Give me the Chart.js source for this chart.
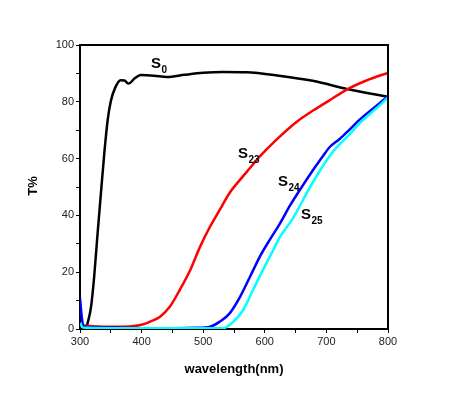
<!DOCTYPE html>
<html>
<head>
<meta charset="utf-8">
<script src="https://cdn.jsdelivr.net/npm/chart.js@4/dist/chart.umd.min.js"></script>
<style>
  html, body { margin: 0; padding: 0; background: #fff; }
  #wrap { width: 450px; height: 395px; }
</style>
</head>
<body>
<div id="wrap"><canvas id="tChart" width="450" height="395"></canvas></div>
<script>
// wavelength (nm) / transmittance (%)
const s0Wl  = [311, 318, 323, 328.6, 334, 339.5, 345, 350, 357, 366, 372, 379, 388, 399, 420, 441, 470, 500, 532, 570, 620, 680, 733, 800];
const s0T   = [0.8, 7.9, 18.4, 33.8, 47.9, 62, 73.7, 80.2, 84.9, 87.6, 87.5, 86.4, 88.1, 89.4, 89.2, 88.7, 89.5, 90.2, 90.5, 90.4, 89.3, 87.3, 84.5, 81.8];

const s23Wl = [305, 320, 350, 380, 400, 414, 430, 446, 462, 479, 495, 511, 527, 543, 560, 576, 592, 619, 652, 679, 705, 733, 765, 800];
const s23T  = [1.2, 1, 0.8, 0.9, 1.5, 2.6, 4.3, 7.9, 13.8, 20.8, 29, 36, 42, 48, 52.6, 56.7, 60.8, 66.7, 73, 77, 80.5, 84.3, 87.5, 90.2];

const s24Wl = [300, 303, 306, 320, 350, 400, 450, 490, 511, 527, 543, 560, 576, 592, 608, 625, 641, 657, 680, 698, 705, 722, 738, 754, 778, 800];
const s24T  = [11, 4, 1, 0.6, 0.5, 0.3, 0.3, 0.4, 0.8, 2.6, 5.5, 11.4, 18.4, 25.5, 31.4, 37.3, 43.5, 49, 56.5, 62, 64, 67, 70.3, 73.7, 78, 82];

const s25Wl = [300, 305, 350, 400, 500, 533, 549, 565, 581, 597, 614, 625, 644, 671, 690, 709, 735, 760, 780, 800];
const s25T  = [2, 0.5, 0.3, 0.3, 0.3, 0.3, 2.6, 6.7, 13.8, 20.8, 27.9, 32.6, 38.4, 49, 56, 62, 68, 73.7, 77.5, 81.5];

const xMin = 300, xMax = 800;
const yMin = 0, yMax = 100;

function pts(xs, ys) {
  return xs.map((x, i) => ({ x: x, y: ys[i] }));
}

function makeSet(label, xs, ys, color) {
  return {
    label: label,
    data: pts(xs, ys),
    borderColor: color,
    backgroundColor: color,
    borderWidth: 2.5,
    pointRadius: 0,
    fill: false,
    cubicInterpolationMode: 'monotone'
  };
}

// frame, axis titles and curve labels
const decor = {
  id: 'decor',
  afterDraw(chart) {
    const ctx = chart.ctx;
    const a = chart.chartArea;
    ctx.save();
    ctx.strokeStyle = '#000';
    ctx.lineWidth = 2;
    ctx.beginPath();
    ctx.moveTo(a.left, a.top);
    ctx.lineTo(a.right, a.top);
    ctx.lineTo(a.right, a.bottom);
    ctx.stroke();

    ctx.fillStyle = '#000';
    // y title
    ctx.save();
    ctx.translate(33, 186);
    ctx.rotate(-Math.PI / 2);
    ctx.font = 'bold 13px "Liberation Sans", Arial, sans-serif';
    ctx.textAlign = 'center';
    ctx.textBaseline = 'middle';
    ctx.fillText('T%', 0, 0);
    ctx.restore();

    // x title
    ctx.font = 'bold 13px "Liberation Sans", Arial, sans-serif';
    ctx.textAlign = 'center';
    ctx.textBaseline = 'middle';
    ctx.fillText('wavelength(nm)', (a.left + a.right) / 2, 369);

    // curve labels
    const labels = [
      { s: 'S', sub: '0',  x: 151, y: 68 },
      { s: 'S', sub: '23', x: 238, y: 158 },
      { s: 'S', sub: '24', x: 278, y: 186 },
      { s: 'S', sub: '25', x: 301, y: 219 }
    ];
    ctx.textAlign = 'left';
    ctx.textBaseline = 'alphabetic';
    labels.forEach(l => {
      ctx.font = 'bold 15px "Liberation Sans", Arial, sans-serif';
      ctx.fillText(l.s, l.x, l.y);
      const w = ctx.measureText(l.s).width;
      ctx.font = 'bold 10px "Liberation Sans", Arial, sans-serif';
      ctx.fillText(l.sub, l.x + w + 0.5, l.y + 5);
    });
    ctx.restore();
  }
};

new Chart(document.getElementById('tChart'), {
  type: 'line',
  data: {
    datasets: [
      makeSet('S25', s25Wl, s25T, '#00ffff'),
      makeSet('S24', s24Wl, s24T, '#0000ff'),
      makeSet('S23', s23Wl, s23T, '#ff0000'),
      makeSet('S0',  s0Wl,  s0T,  '#000000')
    ]
  },
  options: {
    responsive: false,
    animation: false,
    layout: { padding: { left: 0, top: 45, right: 62, bottom: 0 } },
    plugins: {
      legend: { display: false },
      tooltip: { enabled: false }
    },
    scales: {
      x: {
        type: 'linear',
        min: xMin,
        max: xMax,
        afterFit: scale => { scale.height = 66; },
        border: { display: true, color: '#000', width: 2 },
        grid: { drawOnChartArea: false, color: '#000', tickLength: 4, tickWidth: 1 },
        ticks: {
          stepSize: 50,
          maxRotation: 0,
          padding: 2,
          color: '#222',
          font: { family: '"Liberation Sans", Arial, sans-serif', size: 11 },
          callback: v => (v % 100 === 0 ? v : '')
        }
      },
      y: {
        type: 'linear',
        min: yMin,
        max: yMax,
        afterFit: scale => { scale.width = 80; },
        border: { display: true, color: '#000', width: 2 },
        grid: { drawOnChartArea: false, color: '#000', tickLength: 4, tickWidth: 1 },
        ticks: {
          stepSize: 10,
          padding: 2,
          color: '#222',
          font: { family: '"Liberation Sans", Arial, sans-serif', size: 11 },
          callback: v => (v % 20 === 0 ? v : '')
        }
      }
    }
  },
  plugins: [decor]
});
</script>
</body>
</html>
